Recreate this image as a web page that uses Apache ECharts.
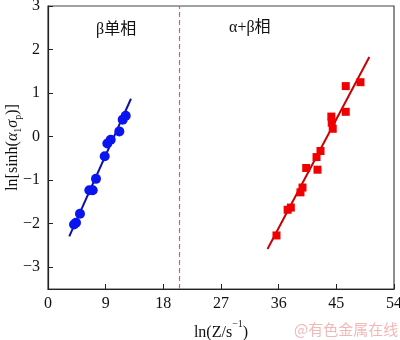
<!DOCTYPE html>
<html><head><meta charset="utf-8">
<script src="https://cdn.jsdelivr.net/npm/echarts@6/dist/echarts.min.js"></script>
<style>html,body{margin:0;padding:0;background:#fff}#c{width:400px;height:340px}</style>
</head><body><div id="c"></div>
<script>
// β single phase: circles
const betaX = [12.13, 11.66, 11.13, 9.79, 9.26, 8.85, 7.49, 6.98, 6.45, 4.99, 4.37, 4.06];
const betaY = [0.48, 0.39, 0.12, -0.07, -0.16, -0.45, -0.97, -1.23, -1.23, -1.77, -1.98, -2.02];
const betaFitX = [3.32, 12.95];
const betaFitY = [-2.29, 0.87];
// α+β phase: squares
const abX = [48.77, 46.47, 46.47, 44.22, 44.28, 44.44, 42.53, 41.91, 40.30, 42.06, 39.72, 39.40, 37.90, 37.40, 35.66];
const abY = [1.25, 1.16, 0.57, 0.46, 0.32, 0.18, -0.33, -0.47, -0.72, -0.76, -1.17, -1.28, -1.63, -1.68, -2.27];
const abFitX = [34.26, 50.15];
const abFitY = [-2.58, 1.83];
const boundaryX = 20.5;
const xTicks = [0, 9, 18, 27, 36, 45, 54];
const yTicks = [-3, -2, -1, 0, 1, 2, 3];
const labelBeta = 'β单相';
const labelAB = 'α+β相';
const watermark = '@有色金属在线';

const pts = (xs, ys) => xs.map((x, i) => [x, ys[i]]);
const FONT = "'Liberation Serif','Times New Roman',serif";
const CJK = "'Liberation Serif','Noto Sans CJK SC',serif";
const chart = echarts.init(document.getElementById('c'));
chart.setOption({
  animation: false,
  grid: { left: 48, right: 6, top: 6, bottom: 51, containLabel: false, outerBoundsMode: 'none',
    show: true, borderColor: '#444', borderWidth: 1.2, backgroundColor: 'transparent' },
  xAxis: {
    type: 'value', min: xTicks[0], max: xTicks[xTicks.length - 1], interval: 9,
    axisLine: { show: true, onZero: false, lineStyle: { color: '#222', width: 1.2 } },
    axisTick: { inside: true, length: 5, lineStyle: { color: '#222' } },
    splitLine: { show: false },
    axisLabel: { color: '#111', fontFamily: FONT, fontSize: 16, margin: 7 },
    name: '{n|ln(Z/s}{s|−1}{n|)}', nameLocation: 'middle', nameGap: 30, nameMoveOverlap: false,
    nameTextStyle: { rich: {
      n: { fontFamily: FONT, fontSize: 16, color: '#111', lineHeight: 18, verticalAlign: 'bottom' },
      s: { fontFamily: FONT, fontSize: 10, color: '#111', lineHeight: 22, verticalAlign: 'top' }
    } }
  },
  yAxis: {
    type: 'value', min: -3.5, max: 3, interval: 0.5,
    axisLine: { show: true, onZero: false, lineStyle: { color: '#222', width: 1.2 } },
    axisTick: { inside: true, length: 5, customValues: yTicks, lineStyle: { color: '#222' } },
    splitLine: { show: false },
    axisLabel: { color: '#111', fontFamily: FONT, fontSize: 16, margin: 8, customValues: yTicks,
      formatter: v => String(v).replace('-', '−') },
    name: '{n|ln[sinh(}{i|α}{s|1}{i|σ}{s|p}{n|)]}', nameLocation: 'middle', nameGap: 25, nameRotate: 90,
    nameMoveOverlap: false,
    nameTextStyle: { rich: {
      n: { fontFamily: FONT, fontSize: 16, color: '#111', lineHeight: 20, verticalAlign: 'middle' },
      i: { fontFamily: FONT, fontSize: 16, fontStyle: 'italic', color: '#111', lineHeight: 20, verticalAlign: 'middle' },
      s: { fontFamily: FONT, fontSize: 10, color: '#111', lineHeight: 10, verticalAlign: 'bottom' }
    } }
  },
  series: [
    { type: 'line', data: pts(betaFitX, betaFitY), symbol: 'none', lineStyle: { color: '#1010a0', width: 2 }, z: 2,
      markLine: { silent: true, symbol: 'none', label: { show: false },
        lineStyle: { color: '#cc6666', type: [5, 3], width: 1.2 }, data: [{ xAxis: boundaryX }] } },
    { type: 'scatter', data: pts(betaX, betaY), symbol: 'circle', symbolSize: 10, itemStyle: { color: '#0a14f0', opacity: 1 }, z: 3 },
    { type: 'line', data: pts(abFitX, abFitY), symbol: 'none', lineStyle: { color: '#c80000', width: 2 }, z: 2 },
    { type: 'scatter', data: pts(abX, abY), symbol: 'rect', symbolSize: 8, itemStyle: { color: '#f00000', opacity: 1 }, z: 3 }
  ],
  graphic: [
    { type: 'text', left: 96, top: 22, style: { text: labelBeta, font: '16px ' + CJK, fill: '#111' } },
    { type: 'text', left: 229, top: 20, style: { text: labelAB, font: '16px ' + CJK, fill: '#111' } },
    { type: 'text', left: 294, top: 322, style: { text: watermark, font: '15px "Noto Sans CJK SC"', fill: '#f2b8b8' } }
  ]
});
</script></body></html>
